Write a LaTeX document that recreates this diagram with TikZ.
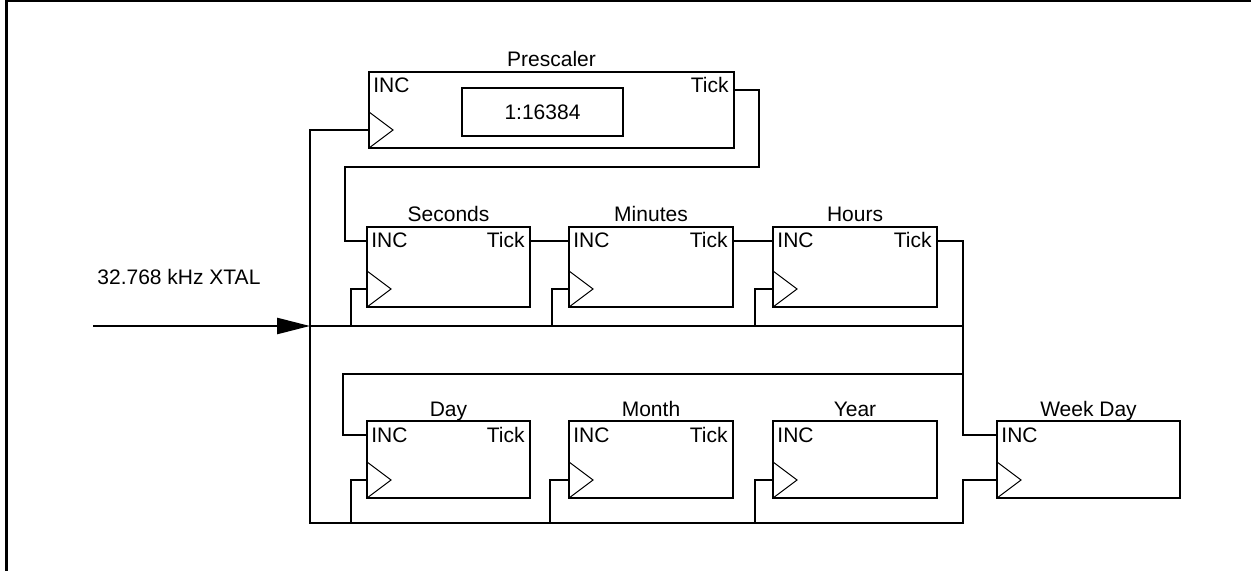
\documentclass[tikz,border=0pt]{standalone}
\usepackage{fontspec}
\setmainfont{Liberation Sans}
\usetikzlibrary{arrows.meta}

\begin{document}
\begin{tikzpicture}[x=0.5pt, y=-0.5pt, >={Triangle[length=16.5pt, width=8pt]},
    font=\fontsize{10.5}{12}\selectfont,
    blk/.style={draw, line width=1.3pt, inner sep=0pt, outer sep=0pt, minimum width=#1},
    wire/.style={line width=1.3pt},
    clk/.style={line width=0.5pt},
    pin/.style={inner sep=0pt}]
  \useasboundingbox (0,0) rectangle (1251,571);
  \draw[line width=1.5pt] (6,571) -- (6,1) -- (1251,1);

  \node[blk=182.5pt, minimum height=38pt] (pre) at (551.5,110) {};
  \node[blk=80.5pt, minimum height=24pt] (ratio) at (542.5,112) {1:16384};
  \node[blk=81.5pt, minimum height=40pt] (sec) at (448.5,267) {};
  \node[blk=82pt, minimum height=40pt] (min) at (651,267) {};
  \node[blk=82pt, minimum height=40pt] (hrs) at (855,267) {};
  \node[blk=81.5pt, minimum height=38.5pt] (day) at (448.5,459.5) {};
  \node[blk=82pt, minimum height=38.5pt] (mon) at (651,459.5) {};
  \node[blk=82pt, minimum height=38.5pt] (yr) at (855,459.5) {};
  \node[blk=91.5pt, minimum height=38.5pt] (wkd) at (1088.5,459.5) {};

  \foreach \b/\t in {pre/Prescaler, sec/Seconds, min/Minutes, hrs/Hours,
                     day/Day, mon/Month, yr/Year, wkd/Week Day} {
    \node[pin, anchor=base] (\b-title) at ([yshift=2.5pt]\b.north) {\t};
    \node[pin, anchor=base west] (\b-inc) at ([xshift=2pt, yshift=-10.5pt]\b.north west) {INC};
    \draw[clk] ([yshift=18pt]\b.south west) -- ++(24,18) -- (\b.south west);
  }
  \foreach \b in {pre, sec, min, hrs, day, mon} {
    \node[pin, anchor=base east] (\b-tick) at ([xshift=-2.5pt, yshift=-10.5pt]\b.north east) {Tick};
  }

  \foreach \b/\d in {pre/9pt, sec/7pt, min/7pt, hrs/7pt, day/7pt, mon/7pt, yr/7pt, wkd/7pt} {
    \coordinate (\b-in) at ([yshift=-\d]\b.north west);
    \coordinate (\b-out) at ([yshift=-\d]\b.north east);
    \coordinate (\b-ck) at ([yshift=9pt]\b.south west);
  }

  \coordinate (src) at (93,326);
  \coordinate (xtal) at (310,326);
  \coordinate (busR) at (963,326);
  \coordinate (botL) at (310,523);
  \coordinate (botR) at (963,523);
  \coordinate (ret1) at (759,167);
  \coordinate (ret2) at (345,167);
  \coordinate (loopR) at (963,374);
  \coordinate (loopL) at (343,374);

  \node[pin, anchor=base west] (xtal-t) at ([xshift=2pt, yshift=20.5pt]src) {32.768 kHz XTAL};
  \draw[wire, ->] (src) -- (xtal);
  \draw[wire] (xtal) -- (busR);
  \draw[wire] (pre-ck) -| (botL) -- (botR) |- (wkd-ck);
  \draw[wire] (pre-out) -| (ret1) -- (ret2) |- (sec-in);
  \draw[wire] (sec-out) -- (min-in);
  \draw[wire] (min-out) -- (hrs-in);
  \draw[wire] (hrs-out) -| (loopR) |- (wkd-in);
  \draw[wire] (loopR) -- (loopL) |- (day-in);

  \foreach \b/\x in {sec/351, min/552, hrs/755} {
    \draw[wire] (\b-ck) -| (\x,326);
  }
  \foreach \b/\x in {day/351, mon/550, yr/755} {
    \draw[wire] (\b-ck) -| (\x,523);
  }
\end{tikzpicture}
\end{document}
